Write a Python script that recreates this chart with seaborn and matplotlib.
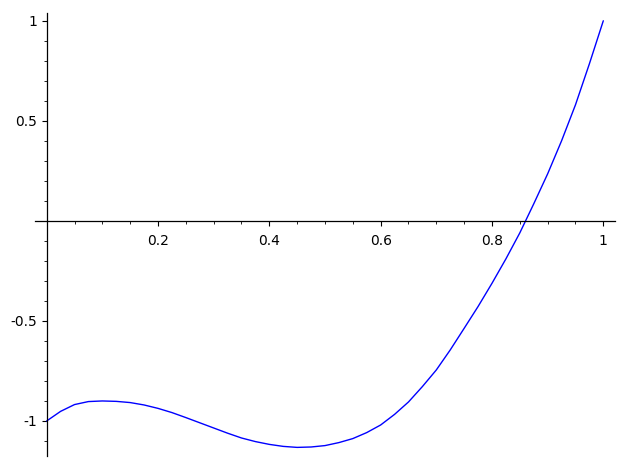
import numpy as np
import pandas as pd
import matplotlib
matplotlib.use("Agg")
import matplotlib.pyplot as plt
import seaborn as sns
from matplotlib.ticker import MultipleLocator

# Curve values
x_vals = [0.0, 0.025, 0.05, 0.075, 0.1, 0.125, 0.15, 0.175, 0.2, 0.225, 0.25,
          0.275, 0.3, 0.325, 0.35, 0.375, 0.4, 0.425, 0.45, 0.475, 0.5, 0.525,
          0.55, 0.575, 0.6, 0.625, 0.65, 0.675, 0.7, 0.725, 0.75, 0.775, 0.8,
          0.825, 0.85, 0.875, 0.9, 0.925, 0.95, 0.975, 1.0]
y_vals = [-1.0, -0.952, -0.918, -0.903, -0.900, -0.902, -0.908, -0.920, -0.937,
          -0.958, -0.983, -1.009, -1.035, -1.061, -1.085, -1.103, -1.117, -1.127,
          -1.132, -1.130, -1.123, -1.108, -1.088, -1.058, -1.02, -0.967, -0.905,
          -0.828, -0.745, -0.645, -0.537, -0.428, -0.312, -0.19, -0.06, 0.085,
          0.235, 0.40, 0.58, 0.785, 1.0]

x_ticks = [0.2, 0.4, 0.6, 0.8, 1.0]
x_labels = ["0.2", "0.4", "0.6", "0.8", "1"]
y_ticks = [-1.0, -0.5, 0.5, 1.0]
y_labels = ["-1", "-0.5", "0.5", "1"]

df = pd.DataFrame({"x": x_vals, "y": y_vals})

sns.set_style("white")
plt.rcParams["font.family"] = ["DejaVu Sans"]
plt.rcParams["axes.unicode_minus"] = False

fig = plt.figure(figsize=(6.28, 4.70), dpi=100)
ax = fig.add_axes([0.0557, 0.0298, 0.9236, 0.9424])

sns.lineplot(data=df, x="x", y="y", color="#0000ff", linewidth=1.0, ax=ax,
             sort=False, estimator=None)

ax.set_xlim(-0.021, 1.021)
ax.set_ylim(-1.175, 1.0385)

# Sage-style axes crossing at the origin
ax.spines["top"].set_visible(False)
ax.spines["right"].set_visible(False)
ax.spines["left"].set_position(("data", 0))
ax.spines["bottom"].set_position(("data", 0))
for s in ("left", "bottom"):
    ax.spines[s].set_color("black")
    ax.spines[s].set_linewidth(0.9)

ax.set_xticks(x_ticks)
ax.set_xticklabels(x_labels)
ax.set_yticks(y_ticks)
ax.set_yticklabels(y_labels)
ax.xaxis.set_minor_locator(MultipleLocator(0.05))
ax.yaxis.set_minor_locator(MultipleLocator(0.1))
ax.tick_params(which="major", direction="out", length=3.5, width=0.8,
               color="black", labelsize=10, labelcolor="black",
               bottom=True, left=True)
ax.tick_params(which="minor", direction="out", length=2.2, width=0.6,
               color="black", bottom=True, left=True)
ax.tick_params(axis="x", pad=6)

ax.set_xlabel("")
ax.set_ylabel("")
ax.grid(False)

fig.savefig("out.png", dpi=100)
